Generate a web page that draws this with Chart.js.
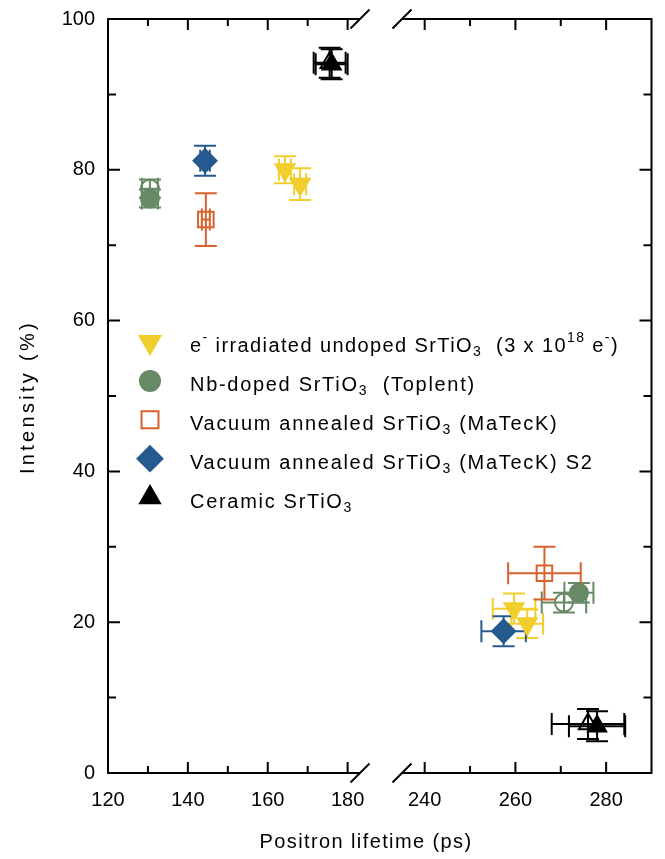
<!DOCTYPE html>
<html>
<head>
<meta charset="utf-8">
<script src="https://cdn.jsdelivr.net/npm/chart.js@4.4.0/dist/chart.umd.min.js"></script>
<style>
  html, body { margin: 0; padding: 0; background: #fff; }
  #wrap { position: relative; width: 665px; height: 859px; }
  #wrap canvas { position: absolute; top: 0; }
  #left { left: 0; }
  #right { left: 380px; }
</style>
</head>
<body>
<div id="wrap">
  <canvas id="left" width="665" height="859"></canvas>
  <canvas id="right" width="285" height="859"></canvas>
</div>
<script>
const FONT = "'Liberation Sans', Arial, Helvetica, sans-serif";

// broken x axis: short lifetimes on the left piece, long ones on the right
const leftTicks = [120, 140, 160, 180];
const leftMinor = [130, 150, 170];
const rightTicks = [240, 260, 280];
const rightMinor = [250, 270];
const yTicks = [0, 20, 40, 60, 80, 100];
const yMinor = [10, 30, 50, 70, 90];

// each series: lifetime (ps), its error, intensity (%), its error
const irrTau = [164.3, 168.1, 259.7, 262.6];
const irrTauErr = [1.5, 1.5, 4.7, 3.5];
const irrInt = [80.0, 78.1, 21.8, 19.8];
const irrIntErr = [1.8, 2.1, 2.0, 1.9];

const nbTau = [130.5, 274.0];
const nbTauErr = [2.0, 3.2];
const nbInt = [76.2, 23.9];
const nbIntErr = [1.2, 1.3];

const nbOpenTau = [130.5, 270.7];
const nbOpenTauErr = [2.0, 4.9];
const nbOpenInt = [77.5, 22.6];
const nbOpenIntErr = [1.2, 1.3];

const vacTau = [144.5, 266.4];
const vacTauErr = [1.0, 8.0];
const vacInt = [73.4, 26.5];
const vacIntErr = [3.5, 3.5];

const vacS2Tau = [144.3, 257.4];
const vacS2TauErr = [1.2, 4.9];
const vacS2Int = [81.2, 18.8];
const vacS2IntErr = [2.0, 2.0];

const cerTau = [176.0, 278.0];
const cerTauErr = [4.0, 6.2];
const cerInt = [94.0, 6.2];
const cerIntErr = [2.0, 2.0];

const cerOpenTau = [175.5, 276.0];
const cerOpenTauErr = [4.0, 8.0];
const cerOpenInt = [94.2, 6.5];
const cerOpenIntErr = [2.0, 2.0];

// legend text, split into normal / sub / sup pieces
const legendRows = [
  [['e'], ['-', 'sup'], [' irradiated undoped SrTiO'], ['3', 'sub'], ['  (3 x 10'], ['18', 'sup'], [' e'], ['-', 'sup'], [')']],
  [['Nb-doped SrTiO'], ['3', 'sub'], ['  (Toplent)']],
  [['Vacuum annealed SrTiO'], ['3', 'sub'], [' (MaTecK)']],
  [['Vacuum annealed SrTiO'], ['3', 'sub'], [' (MaTecK) S2']],
  [['Ceramic SrTiO'], ['3', 'sub']]
];
const yTitle = 'Intensity (%)';
const xTitle = 'Positron lifetime (ps)';

const YELLOW = '#F2CE2C';
const GREEN = '#678965';
const ORANGE = '#D8622D';
const BLUE = '#245A8E';
const BLACK = '#000000';
const NONE = 'rgba(0,0,0,0)';

const BREAK = 200;

function pts(tau, tauErr, inten, intenErr, left) {
  const out = [];
  tau.forEach((t, i) => {
    if ((t < BREAK) === left) out.push({ x: t, y: inten[i], xErr: tauErr[i], yErr: intenErr[i] });
  });
  return out;
}

function ds(data, style, fill, line, radius, rotation) {
  return {
    data: data,
    pointStyle: style,
    pointRadius: radius,
    pointRotation: rotation || 0,
    pointBackgroundColor: fill,
    pointBorderColor: line,
    pointBorderWidth: 2,
    backgroundColor: fill,
    borderColor: line,
    showLine: false
  };
}

function makeDatasets(left) {
  return [
    ds(pts(irrTau, irrTauErr, irrInt, irrIntErr, left), 'triangle', YELLOW, YELLOW, 11, 180),
    ds(pts(nbTau, nbTauErr, nbInt, nbIntErr, left), 'circle', GREEN, GREEN, 9),
    ds(pts(nbOpenTau, nbOpenTauErr, nbOpenInt, nbOpenIntErr, left), 'circle', NONE, GREEN, 9),
    ds(pts(vacTau, vacTauErr, vacInt, vacIntErr, left), 'rect', NONE, ORANGE, 11),
    ds(pts(vacS2Tau, vacS2TauErr, vacS2Int, vacS2IntErr, left), 'rectRot', BLUE, BLUE, 11.5),
    ds(pts(cerTau, cerTauErr, cerInt, cerIntErr, left), 'triangle', BLACK, BLACK, 10.5),
    ds(pts(cerOpenTau, cerOpenTauErr, cerOpenInt, cerOpenIntErr, left), 'triangle', NONE, BLACK, 10.5)
  ];
}

// error bars with caps, drawn under the markers
const errorBars = {
  id: 'errorBars',
  beforeDatasetsDraw(chart) {
    const { ctx, scales: { x, y } } = chart;
    const cap = 11;
    chart.data.datasets.forEach(d => {
      ctx.save();
      ctx.strokeStyle = d.borderColor;
      ctx.lineWidth = 2;
      ctx.beginPath();
      d.data.forEach(p => {
        const px = x.getPixelForValue(p.x), py = y.getPixelForValue(p.y);
        const y0 = y.getPixelForValue(p.y - p.yErr), y1 = y.getPixelForValue(p.y + p.yErr);
        const x0 = x.getPixelForValue(p.x - p.xErr), x1 = x.getPixelForValue(p.x + p.xErr);
        ctx.moveTo(px, y0); ctx.lineTo(px, y1);
        ctx.moveTo(px - cap, y0); ctx.lineTo(px + cap, y0);
        ctx.moveTo(px - cap, y1); ctx.lineTo(px + cap, y1);
        ctx.moveTo(x0, py); ctx.lineTo(x1, py);
        ctx.moveTo(x0, py - cap); ctx.lineTo(x0, py + cap);
        ctx.moveTo(x1, py - cap); ctx.lineTo(x1, py + cap);
      });
      ctx.stroke();
      ctx.restore();
    });
  }
};

// box frame with inward ticks and the // break marks
const frame = {
  id: 'frame',
  afterDraw(chart, args, opts) {
    const { ctx, chartArea: a, scales: { x, y } } = chart;
    const side = opts.side === 'left' ? a.left : a.right;
    const open = opts.side === 'left' ? a.right : a.left;
    const dir = opts.side === 'left' ? 1 : -1;
    ctx.save();
    ctx.strokeStyle = '#000';
    ctx.lineWidth = 2;
    ctx.lineJoin = 'miter';
    ctx.beginPath();
    ctx.moveTo(open, a.top); ctx.lineTo(side, a.top);
    ctx.lineTo(side, a.bottom); ctx.lineTo(open, a.bottom);
    ctx.stroke();
    ctx.beginPath();
    const xTick = (v, len) => {
      const px = x.getPixelForValue(v);
      if (Math.abs(px - side) < 2) return;
      ctx.moveTo(px, a.bottom); ctx.lineTo(px, a.bottom - len);
      ctx.moveTo(px, a.top); ctx.lineTo(px, a.top + len);
    };
    opts.major.forEach(v => xTick(v, 11));
    opts.minor.forEach(v => xTick(v, 7));
    const yTick = (v, len) => {
      const py = y.getPixelForValue(v);
      if (Math.abs(py - a.top) < 2 || Math.abs(py - a.bottom) < 2) return;
      ctx.moveTo(side, py); ctx.lineTo(side + dir * len, py);
    };
    yTicks.forEach(v => yTick(v, 12));
    yMinor.forEach(v => yTick(v, 8));
    [a.top, a.bottom].forEach(py => {
      ctx.moveTo(open - 9.5, py + 9.5); ctx.lineTo(open + 9.5, py - 9.5);
    });
    ctx.stroke();
    ctx.restore();
  }
};

function drawPieces(ctx, pieces, x, base, size) {
  pieces.forEach(([t, kind]) => {
    let fs = size, dy = 0;
    if (kind === 'sub') { fs = 14; dy = 4; }
    if (kind === 'sup') { fs = 14; dy = -10; }
    ctx.font = fs + 'px ' + FONT;
    ctx.fillText(t, x, base + dy);
    x += ctx.measureText(t).width;
  });
}

// legend with sub/superscripts and the two axis titles
const annotations = {
  id: 'annotations',
  afterDraw(chart) {
    const { ctx } = chart;
    const sets = chart.data.datasets;
    const legendSets = [sets[0], sets[1], sets[3], sets[4], sets[5]];
    ctx.save();
    ctx.fillStyle = '#000';
    ctx.textBaseline = 'alphabetic';
    ctx.textAlign = 'left';
    legendRows.forEach((row, i) => {
      const ry = 342 + i * 38.9;
      const d = legendSets[i];
      ctx.save();
      ctx.fillStyle = d.backgroundColor;
      ctx.strokeStyle = d.borderColor;
      ctx.lineWidth = 2;
      Chart.helpers.drawPoint(ctx, {
        pointStyle: d.pointStyle,
        radius: d.pointRadius + 1,
        rotation: d.pointRotation,
        borderWidth: 2
      }, 150, ry);
      ctx.restore();
      ctx.letterSpacing = i === 0 ? '1.4px' : '1.7px';
      drawPieces(ctx, row, 190, ry + 10, 20);
    });
    ctx.letterSpacing = '1.4px';
    ctx.font = '20px ' + FONT;
    ctx.textAlign = 'center';
    ctx.textBaseline = 'middle';
    ctx.fillText(xTitle, 366, 842);
    ctx.translate(28, 397);
    ctx.rotate(-Math.PI / 2);
    ctx.letterSpacing = '3.3px';
    ctx.fillText(yTitle, 0, 0);
    ctx.restore();
  }
};

function noPad(s) {
  s.paddingTop = 0;
  s.paddingBottom = 0;
  s.paddingLeft = 0;
  s.paddingRight = 0;
}

function xScale(min, max, ticks) {
  return {
    type: 'linear',
    min: min,
    max: max,
    afterBuildTicks: s => { s.ticks = ticks.map(v => ({ value: v })); },
    afterFit: s => { s.height = 86; noPad(s); },
    grid: { display: false, drawTicks: false },
    border: { display: false },
    ticks: {
      autoSkip: false,
      maxRotation: 0,
      padding: 15,
      color: '#000',
      font: { family: FONT, size: 20 },
      callback: v => String(v)
    }
  };
}

function yScale(show) {
  return {
    type: 'linear',
    display: show,
    min: 0,
    max: 100,
    afterBuildTicks: s => { s.ticks = yTicks.map(v => ({ value: v })); },
    afterFit: s => { if (show) s.width = 108; noPad(s); },
    grid: { display: false, drawTicks: false },
    border: { display: false },
    ticks: {
      padding: 13,
      color: '#000',
      font: { family: FONT, size: 20 },
      callback: v => String(v)
    }
  };
}

const common = {
  responsive: false,
  animation: false,
  devicePixelRatio: 1,
  clip: false
};

new Chart(document.getElementById('left'), {
  type: 'scatter',
  data: { datasets: makeDatasets(true) },
  options: Object.assign({}, common, {
    layout: { padding: { left: 0, top: 19, right: 305, bottom: 0 } },
    scales: { x: xScale(120, 183.1, leftTicks), y: yScale(true) },
    plugins: {
      legend: { display: false },
      tooltip: { enabled: false },
      frame: { side: 'left', major: leftTicks, minor: leftMinor }
    }
  }),
  plugins: [errorBars, frame, annotations]
});

new Chart(document.getElementById('right'), {
  type: 'scatter',
  data: { datasets: makeDatasets(false) },
  options: Object.assign({}, common, {
    layout: { padding: { left: 22, top: 19, right: 12, bottom: 0 } },
    scales: { x: xScale(235, 290, rightTicks), y: yScale(false) },
    plugins: {
      legend: { display: false },
      tooltip: { enabled: false },
      frame: { side: 'right', major: rightTicks, minor: rightMinor }
    }
  }),
  plugins: [errorBars, frame]
});
</script>
</body>
</html>
